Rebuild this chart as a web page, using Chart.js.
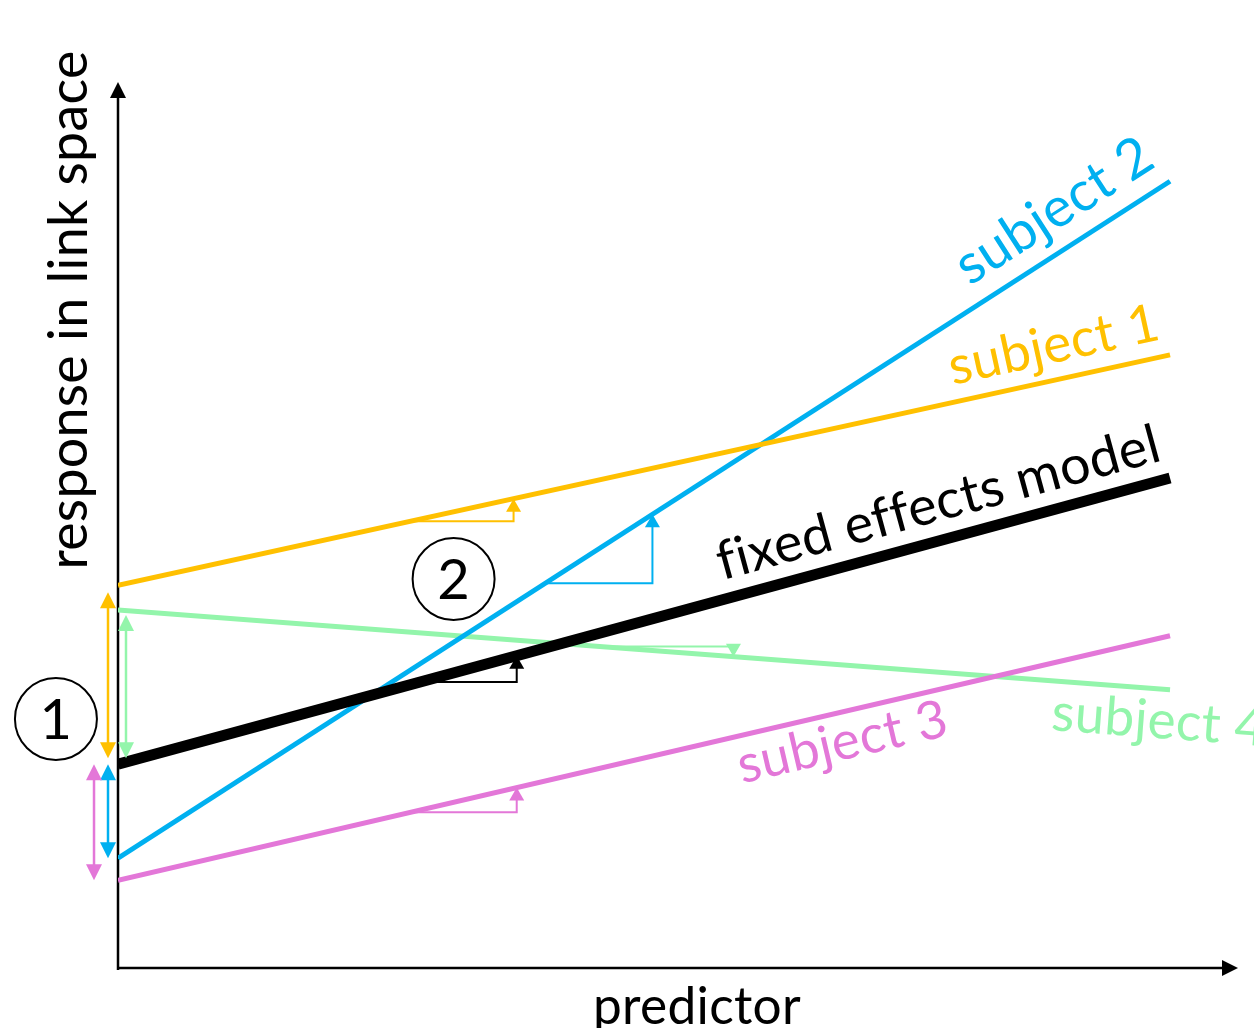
<!DOCTYPE html>
<html>
<head>
<meta charset="utf-8">
<title>Fixed effects model vs subjects</title>
<script src="https://cdn.jsdelivr.net/npm/chart.js@4.4.1/dist/chart.umd.min.js"></script>
<style>
  html, body { margin: 0; padding: 0; background: #fff; }
  #wrap { width: 1254px; height: 1028px; position: relative; }
</style>
</head>
<body>
<div id="wrap"><canvas id="chart"></canvas></div>
<script>
// Each line is given by its value at predictor = 0 and at predictor = 10
const seriesNames = ['fixed effects model', 'subject 1', 'subject 2', 'subject 3', 'subject 4'];
const startValues = [2.30, 4.32, 1.24, 0.99, 4.04];
const endValues = [5.53, 6.92, 8.88, 3.75, 3.14];
const predictorRange = [0, 10];
// slope triangles: horizontal leg from .. to (predictor units)
const slopeFrom = [2.87, 2.78, 4.06, 2.78, 4.58];
const slopeTo = [3.79, 3.76, 5.08, 3.79, 5.85];
const axisTitles = ['predictor', 'response in link space'];
const markerLabels = ['1', '2'];

// styling / layout
const colors = ['#000000', '#FFC000', '#00B0F0', '#E377D8', '#93F5AB'];
const widths = [11, 5, 5, 5, 5];
const FONT = 'Lato, "Open Sans", sans-serif';
// where each rotated label starts along its line, perpendicular offset in px, target text length
const labelPos = [
    { x: 5.79, off: 19, len: 455 },
    { x: 7.97, off: 17, len: 213 },
    { x: 8.20, off: 20, len: 222 },
    { x: 5.83, off: -47, len: 213 },
    { x: 8.90, off: -49, len: 213 }
];
// intercept arrows (subjects 1-4): x position in predictor units and inset at subject end
const interceptArrowX = [-0.095, -0.095, -0.228, 0.076];
const interceptInset = [7, 0, 0, 5];
// circled markers, in data units
const markerPos = [{ x: -0.59, y: 2.81 }, { x: 3.19, y: 4.39 }];

function lineValue(i, x) {
    const [x0, x1] = predictorRange;
    return startValues[i] + (endValues[i] - startValues[i]) * (x - x0) / (x1 - x0);
}

function arrowHead(ctx, tipX, tipY, dx, dy, len, half, color) {
    // (dx, dy) is a unit vector pointing towards the tip
    ctx.fillStyle = color;
    ctx.beginPath();
    ctx.moveTo(tipX, tipY);
    ctx.lineTo(tipX - dx * len - dy * half, tipY - dy * len + dx * half);
    ctx.lineTo(tipX - dx * len + dy * half, tipY - dy * len - dx * half);
    ctx.closePath();
    ctx.fill();
}

function setFont(ctx, size) {
    ctx.font = size.toFixed(1) + 'px ' + FONT;
    // a tiny letter spacing keeps "fi" from turning into a ligature
    ctx.letterSpacing = '0.3px';
}

function fitFont(ctx, text, width) {
    setFont(ctx, 100);
    return 100 * width / ctx.measureText(text).width;
}

const diagramPlugin = {
    id: 'diagram',
    beforeDatasetsDraw(chart) {
        const ctx = chart.ctx;
        const xs = chart.scales.x, ys = chart.scales.y;
        const ox = xs.getPixelForValue(0), oy = ys.getPixelForValue(0);
        ctx.save();
        ctx.strokeStyle = '#000';
        ctx.lineWidth = 2.5;
        ctx.beginPath();
        ctx.moveTo(ox, oy + 2);
        ctx.lineTo(ox, ys.top + 12);
        ctx.moveTo(ox, oy);
        ctx.lineTo(xs.right - 12, oy);
        ctx.stroke();
        arrowHead(ctx, ox, ys.top, 0, -1, 16, 8, '#000');
        arrowHead(ctx, xs.right, oy, 1, 0, 16, 8, '#000');
        ctx.restore();
    },
    afterDatasetsDraw(chart) {
        const ctx = chart.ctx;
        const xs = chart.scales.x, ys = chart.scales.y;
        ctx.save();

        // slope triangles
        seriesNames.forEach((name, i) => {
            const xa = xs.getPixelForValue(slopeFrom[i]);
            const xb = xs.getPixelForValue(slopeTo[i]);
            const ya = ys.getPixelForValue(lineValue(i, slopeFrom[i]));
            const yb = ys.getPixelForValue(lineValue(i, slopeTo[i]));
            const dir = yb < ya ? -1 : 1;
            ctx.strokeStyle = colors[i];
            ctx.lineWidth = 2;
            ctx.beginPath();
            ctx.moveTo(xa, ya);
            ctx.lineTo(xb, ya);
            ctx.lineTo(xb, yb - dir * 10);
            ctx.stroke();
            arrowHead(ctx, xb, yb, 0, dir, 13, 7.5, colors[i]);
        });

        // intercept difference arrows
        const fixedY = ys.getPixelForValue(startValues[0]);
        for (let i = 1; i < seriesNames.length; i++) {
            const x = xs.getPixelForValue(interceptArrowX[i - 1]);
            const sy = ys.getPixelForValue(startValues[i]);
            const dir = sy < fixedY ? -1 : 1;
            const ySub = sy - dir * interceptInset[i - 1];
            const yFix = fixedY + dir * (interceptInset[i - 1] > 0 ? 6 : 0);
            ctx.strokeStyle = colors[i];
            ctx.lineWidth = 2.5;
            ctx.beginPath();
            ctx.moveTo(x, yFix + dir * 12);
            ctx.lineTo(x, ySub - dir * 12);
            ctx.stroke();
            arrowHead(ctx, x, ySub, 0, dir, 16, 8, colors[i]);
            arrowHead(ctx, x, yFix, 0, -dir, 16, 8, colors[i]);
        }
        ctx.restore();
    },
    afterDraw(chart) {
        const ctx = chart.ctx;
        const xs = chart.scales.x, ys = chart.scales.y;
        ctx.save();

        // labels along each line
        seriesNames.forEach((name, i) => {
            const p = labelPos[i];
            const px = xs.getPixelForValue(p.x);
            const py = ys.getPixelForValue(lineValue(i, p.x));
            const ang = Math.atan2(
                ys.getPixelForValue(endValues[i]) - ys.getPixelForValue(startValues[i]),
                xs.getPixelForValue(predictorRange[1]) - xs.getPixelForValue(predictorRange[0]));
            const size = fitFont(ctx, name, p.len);
            ctx.save();
            ctx.translate(px, py);
            ctx.rotate(ang);
            setFont(ctx, size);
            ctx.fillStyle = colors[i];
            ctx.textAlign = 'left';
            ctx.textBaseline = 'alphabetic';
            ctx.fillText(name, 0, -p.off);
            ctx.restore();
        });

        // axis titles
        ctx.fillStyle = '#000';
        ctx.textAlign = 'center';
        ctx.textBaseline = 'alphabetic';
        let size = fitFont(ctx, axisTitles[0], 207);
        setFont(ctx, size);
        ctx.fillText(axisTitles[0], 697, 1024);

        size = fitFont(ctx, axisTitles[1], 516);
        ctx.save();
        ctx.translate(87, 310);
        ctx.rotate(-Math.PI / 2);
        setFont(ctx, size);
        ctx.fillText(axisTitles[1], 0, 0);
        ctx.restore();

        // circled numbers
        markerPos.forEach((m, i) => {
            const cx = xs.getPixelForValue(m.x), cy = ys.getPixelForValue(m.y);
            ctx.strokeStyle = '#000';
            ctx.lineWidth = 2;
            ctx.beginPath();
            ctx.arc(cx, cy, 41, 0, Math.PI * 2);
            ctx.stroke();
            setFont(ctx, 56);
            ctx.textBaseline = 'middle';
            ctx.fillText(markerLabels[i], cx, cy + 2);
        });
        ctx.restore();
    }
};

const datasets = seriesNames.map((name, i) => ({
    label: name,
    data: predictorRange.map(x => ({ x: x, y: lineValue(i, x) })),
    borderColor: colors[i],
    borderWidth: widths[i],
    borderCapStyle: 'butt',
    pointRadius: 0,
    fill: false,
    tension: 0
}));

new Chart(document.getElementById('chart'), {
    type: 'line',
    data: { datasets: datasets },
    options: {
        responsive: true,
        maintainAspectRatio: false,
        animation: false,
        layout: { padding: { left: 118, right: 16, top: 82, bottom: 60 } },
        plugins: {
            legend: { display: false },
            tooltip: { enabled: false }
        },
        scales: {
            x: { type: 'linear', min: 0, max: 10.646, display: false },
            y: { type: 'linear', min: 0, max: 10, display: false }
        }
    },
    plugins: [diagramPlugin]
});
</script>
</body>
</html>
